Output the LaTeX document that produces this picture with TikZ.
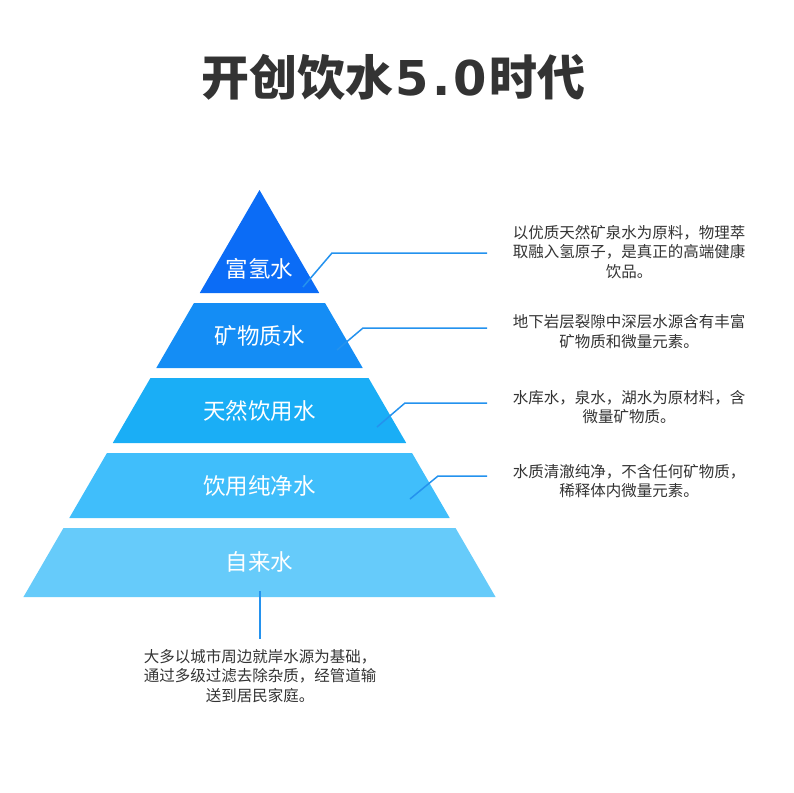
\documentclass[tikz,border=0pt]{standalone}
\usepackage{fontspec}
\setmainfont{Noto Sans CJK SC}
\newfontfamily\digitfont{DejaVu Sans}

\definecolor{layerA}{HTML}{0B6CF6}
\definecolor{layerB}{HTML}{148DF5}
\definecolor{layerC}{HTML}{1AAEF6}
\definecolor{layerD}{HTML}{40BEFB}
\definecolor{layerE}{HTML}{66CBFA}
\definecolor{leaderblue}{HTML}{2492EE}
\definecolor{textgray}{HTML}{333333}

\tikzset{
  layername/.style={text=white, font=\fontsize{22.5}{27}\selectfont},
  desc/.style={text=textgray, align=center, inner sep=0pt, font=\fontsize{15.5}{19.5}\selectfont},
  leader/.style={draw=leaderblue, line width=1.5pt},
}

\begin{document}
\begin{tikzpicture}[x=1pt,y=-1pt]
    \useasboundingbox (0,0) rectangle (793,793);
    % Title
    \node[text=textgray, font=\fontsize{48}{56}\selectfont\bfseries] (title) at (393.5,77) {开创饮水{\digitfont\kern2pt 5\kern3pt.\kern3pt 0\kern2pt}时代};
    % Layers of the pyramid, cut from one triangle
    \foreach \yt/\yb/\col in {190/293/layerA, 303/368/layerB, 378/443/layerC, 453/518/layerD, 528/597/layerE}
      \fill[fill=\col] ({259.5-0.58*(\yt-190)},\yt) -- ({259.5+0.58*(\yt-190)},\yt)
        -- ({259.5+0.58*(\yb-190)},\yb) -- ({259.5-0.58*(\yb-190)},\yb) -- cycle;
    % Names of the layers
    \node[layername] (hydro) at (259.5,269) {富氢水};
    \node[layername] (mineral) at (259.5,336) {矿物质水};
    \node[layername] (natural) at (259.5,411) {天然饮用水};
    \node[layername] (purified) at (259.5,486) {饮用纯净水};
    \node[layername] (tap) at (259.5,562) {自来水};
    % Descriptions
    \node[desc] (descHydro) at (629,252) {以优质天然矿泉水为原料，物理萃\\取融入氢原子，是真正的高端健康\\饮品。};
    \node[desc] (descMineral) at (629,331.5) {地下岩层裂隙中深层水源含有丰富\\矿物质和微量元素。};
    \node[desc] (descNatural) at (629,407) {水库水，泉水，湖水为原材料，含\\微量矿物质。};
    \node[desc] (descPurified) at (629,481) {水质清澈纯净，不含任何矿物质，\\稀释体内微量元素。};
    \node[desc] (descTap) at (260,676) {大多以城市周边就岸水源为基础，\\通过多级过滤去除杂质，经管道输\\送到居民家庭。};
    % Leader lines
    \foreach \n/\xa/\ya/\xb/\yb in {hydro/303/287/332/253, mineral/337/350/363/328, natural/377/427/405/403, purified/410/499/438/476} {
      \coordinate (\n In) at (\xa,\ya);
      \coordinate (\n Bend) at (\xb,\yb);
      \coordinate (\n End) at (487,\yb);
      \draw[leader] (\n In) -- (\n Bend) -- (\n End);
    }
    \coordinate (tapIn) at (260,591);
    \coordinate (tapEnd) at (260,639);
    \draw[leader] (tapIn) -- (tapEnd);
\end{tikzpicture}
\end{document}
